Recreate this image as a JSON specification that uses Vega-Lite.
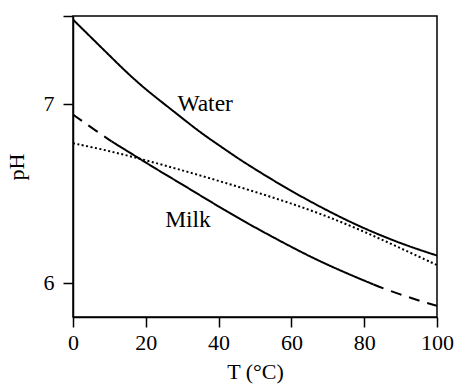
{
  "$schema": "https://vega.github.io/schema/vega-lite/v6.json",
  "width": 364,
  "height": 301,
  "autosize": {"type": "none"},
  "padding": {"left": 73, "top": 16, "right": 17, "bottom": 73},
  "background": "white",
  "config": {
    "font": "Liberation Serif",
    "view": {"stroke": "black", "strokeWidth": 1.5},
    "axis": {
      "grid": false,
      "domainColor": "black",
      "domainWidth": 1.5,
      "tickColor": "black",
      "tickWidth": 1.5,
      "tickSize": 10,
      "labelFont": "Liberation Serif",
      "labelFontSize": 22,
      "labelColor": "black",
      "labelFlush": false,
      "labelOverlap": false,
      "titleFont": "Liberation Serif",
      "titleFontSize": 22,
      "titleFontWeight": "normal",
      "titleColor": "black"
    }
  },
  "datasets": {
    "curves": [
      {"seg": "water", "kind": "measured", "T": 0, "pH": 7.47},
      {"seg": "water", "kind": "measured", "T": 5, "pH": 7.37},
      {"seg": "water", "kind": "measured", "T": 10, "pH": 7.27},
      {"seg": "water", "kind": "measured", "T": 15, "pH": 7.17},
      {"seg": "water", "kind": "measured", "T": 20, "pH": 7.08},
      {"seg": "water", "kind": "measured", "T": 25, "pH": 7.0},
      {"seg": "water", "kind": "measured", "T": 30, "pH": 6.92},
      {"seg": "water", "kind": "measured", "T": 35, "pH": 6.84},
      {"seg": "water", "kind": "measured", "T": 40, "pH": 6.77},
      {"seg": "water", "kind": "measured", "T": 45, "pH": 6.7},
      {"seg": "water", "kind": "measured", "T": 50, "pH": 6.635},
      {"seg": "water", "kind": "measured", "T": 55, "pH": 6.573},
      {"seg": "water", "kind": "measured", "T": 60, "pH": 6.513},
      {"seg": "water", "kind": "measured", "T": 65, "pH": 6.457},
      {"seg": "water", "kind": "measured", "T": 70, "pH": 6.403},
      {"seg": "water", "kind": "measured", "T": 75, "pH": 6.352},
      {"seg": "water", "kind": "measured", "T": 80, "pH": 6.305},
      {"seg": "water", "kind": "measured", "T": 85, "pH": 6.262},
      {"seg": "water", "kind": "measured", "T": 90, "pH": 6.222},
      {"seg": "water", "kind": "measured", "T": 95, "pH": 6.186},
      {"seg": "water", "kind": "measured", "T": 100, "pH": 6.153},
      {"seg": "milk-low", "kind": "extrapolated", "T": 0, "pH": 6.94},
      {"seg": "milk-low", "kind": "extrapolated", "T": 5, "pH": 6.868},
      {"seg": "milk-low", "kind": "extrapolated", "T": 10.6, "pH": 6.79},
      {"seg": "milk", "kind": "measured", "T": 10.6, "pH": 6.79},
      {"seg": "milk", "kind": "measured", "T": 15, "pH": 6.735},
      {"seg": "milk", "kind": "measured", "T": 20, "pH": 6.672},
      {"seg": "milk", "kind": "measured", "T": 25, "pH": 6.61},
      {"seg": "milk", "kind": "measured", "T": 30, "pH": 6.55},
      {"seg": "milk", "kind": "measured", "T": 35, "pH": 6.488},
      {"seg": "milk", "kind": "measured", "T": 40, "pH": 6.427},
      {"seg": "milk", "kind": "measured", "T": 45, "pH": 6.367},
      {"seg": "milk", "kind": "measured", "T": 50, "pH": 6.31},
      {"seg": "milk", "kind": "measured", "T": 55, "pH": 6.255},
      {"seg": "milk", "kind": "measured", "T": 60, "pH": 6.201},
      {"seg": "milk", "kind": "measured", "T": 65, "pH": 6.149},
      {"seg": "milk", "kind": "measured", "T": 70, "pH": 6.101},
      {"seg": "milk", "kind": "measured", "T": 75, "pH": 6.056},
      {"seg": "milk", "kind": "measured", "T": 80, "pH": 6.013},
      {"seg": "milk", "kind": "measured", "T": 82.5, "pH": 5.992},
      {"seg": "milk-high", "kind": "extrapolated", "T": 82.5, "pH": 5.992},
      {"seg": "milk-high", "kind": "extrapolated", "T": 85, "pH": 5.971},
      {"seg": "milk-high", "kind": "extrapolated", "T": 90, "pH": 5.935},
      {"seg": "milk-high", "kind": "extrapolated", "T": 95, "pH": 5.902},
      {"seg": "milk-high", "kind": "extrapolated", "T": 100, "pH": 5.872},
      {"seg": "other", "kind": "reference", "T": 0, "pH": 6.78},
      {"seg": "other", "kind": "reference", "T": 10, "pH": 6.737},
      {"seg": "other", "kind": "reference", "T": 20, "pH": 6.685},
      {"seg": "other", "kind": "reference", "T": 30, "pH": 6.629},
      {"seg": "other", "kind": "reference", "T": 40, "pH": 6.57},
      {"seg": "other", "kind": "reference", "T": 50, "pH": 6.509},
      {"seg": "other", "kind": "reference", "T": 60, "pH": 6.444},
      {"seg": "other", "kind": "reference", "T": 70, "pH": 6.371},
      {"seg": "other", "kind": "reference", "T": 80, "pH": 6.287},
      {"seg": "other", "kind": "reference", "T": 90, "pH": 6.194},
      {"seg": "other", "kind": "reference", "T": 100, "pH": 6.1}
    ],
    "labels": [
      {"label": "Water", "T": 36.3, "pH": 7.0},
      {"label": "Milk", "T": 31.6, "pH": 6.35}
    ]
  },
  "layer": [
    {
      "data": {"name": "curves"},
      "mark": {"type": "line", "interpolate": "basis", "color": "black", "strokeWidth": 2, "clip": true},
      "encoding": {
        "x": {
          "field": "T", "type": "quantitative",
          "scale": {"domain": [0, 100], "nice": false},
          "axis": {"values": [0, 20, 40, 60, 80, 100], "title": "T (°C)", "titlePadding": 8, "labelPadding": 5}
        },
        "y": {
          "field": "pH", "type": "quantitative",
          "scale": {"domain": [5.81, 7.49], "nice": false, "zero": false},
          "axis": {"values": [6, 7, 7.49], "labelExpr": "datum.value > 7.4 ? '' : format(datum.value, 'd')", "title": "pH", "titlePadding": 15, "labelPadding": 9}
        },
        "detail": {"field": "seg"},
        "strokeDash": {
          "field": "kind", "type": "nominal",
          "scale": {"domain": ["measured", "extrapolated", "reference"], "range": [[1, 0], [11, 8], [2, 2.5]]},
          "legend": null
        }
      }
    },
    {
      "data": {"name": "labels"},
      "mark": {"type": "text", "font": "Liberation Serif", "fontSize": 23.5, "color": "black"},
      "encoding": {
        "x": {"field": "T", "type": "quantitative"},
        "y": {"field": "pH", "type": "quantitative"},
        "text": {"field": "label"}
      }
    }
  ]
}
